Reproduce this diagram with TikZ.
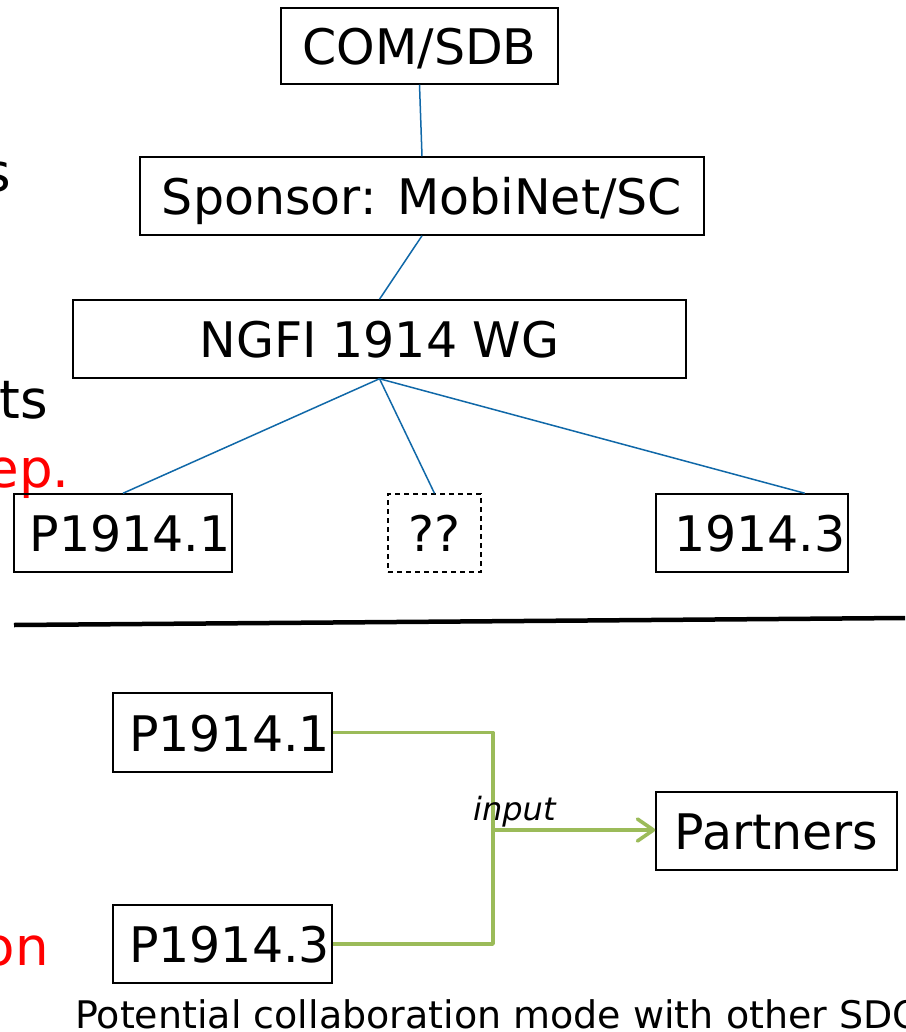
\documentclass[tikz,border=0pt]{standalone}
\usepackage{fontspec}
\setmainfont{DejaVu Sans}
\usetikzlibrary{arrows.meta,calc}
\definecolor{linkblue}{RGB}{16,104,168}
\definecolor{flowgreen}{RGB}{155,187,89}
\definecolor{slidered}{RGB}{255,0,0}
\tikzset{
  box/.style={draw=black, line width=1.5pt, inner sep=0pt, text height=37pt, text depth=0pt,
              font=\fontsize{49}{54}\selectfont},
  dashbox/.style={box, dashed, line width=1.3pt, dash pattern=on 5pt off 4pt},
  link/.style={draw=linkblue, line width=1.5pt},
  flow/.style={draw=flowgreen, line width=3.6pt, line join=round},
  frag/.style={inner sep=0pt, anchor=base east, font=\fontsize{53}{58}\selectfont},
}
\begin{document}
\begin{tikzpicture}[x=1pt,y=-1pt]
\useasboundingbox (0,0) rectangle (905,1032);
\clip (0,0) rectangle (905,1032);
\fill[white] (0,0) rectangle (905,1032);

% clipped slide text at left edge
\node[frag] (fs) at (11,192) {s};
\node[frag] (fnts) at (48,418) {nts};
\node[frag, text=slidered] (fep) at (70,487) {ep.};
\node[frag, text=slidered] (fon) at (49,965) {on};

% hierarchy
\node[box, minimum width=277pt, minimum height=76pt] (com) at (419.5,46) {COM/SDB};
\node[box, minimum width=564pt, minimum height=78pt] (spon) at (422,196) {Sponsor: MobiNet/SC};
\node[box, minimum width=613pt, minimum height=78pt] (ngfi) at (379.5,339) {NGFI 1914 WG};
\node[box, minimum width=218pt, minimum height=78pt] (p1) at (123,533) {\hspace{14pt}P1914.1};
\node[dashbox, minimum width=93pt, minimum height=78pt] (qq) at (434.5,533) {??};
\node[box, minimum width=192pt, minimum height=78pt] (p3) at (752,533) {\hspace{16pt}1914.3};

\draw[link] (com.south) -- (spon.north);
\draw[link] (spon.south) -- (ngfi.north);
\draw[link] (ngfi.south) -- (p1.north);
\draw[link] (ngfi.south) -- (qq.north);
\draw[link] (ngfi.south) -- ([xshift=-44pt]p3.north east);

% separator
\coordinate (sepA) at (14,625);
\coordinate (sepB) at (905,618);
\draw[line width=4.5pt] (sepA) -- (sepB);

% collaboration mode
\node[box, minimum width=219pt, minimum height=79pt] (bp1) at (222.5,732.5) {\hspace{14pt}P1914.1};
\node[box, minimum width=219pt, minimum height=78pt] (bp3) at (222.5,944) {\hspace{14pt}P1914.3};
\node[box, minimum width=241pt, minimum height=78pt] (part) at (776.5,831) {Partners};
\coordinate (join) at (493,830);
\draw[flow] (bp1.east) -| (join);
\draw[flow] (bp3.east) -| (join);
\draw[flow, -{Straight Barb[length=16pt,width=22pt,line cap=round,line join=round]}] (join) -- (join -| part.west);
\node[inner sep=0pt, anchor=base west, font=\fontsize{32}{35}\selectfont\itshape] (inp) at (473,820) {input};

\node[inner sep=0pt, anchor=base west, font=\fontsize{38}{41}\selectfont] (cap) at (75,1028) {Potential collaboration mode with other SDOs};
\end{tikzpicture}
\end{document}
